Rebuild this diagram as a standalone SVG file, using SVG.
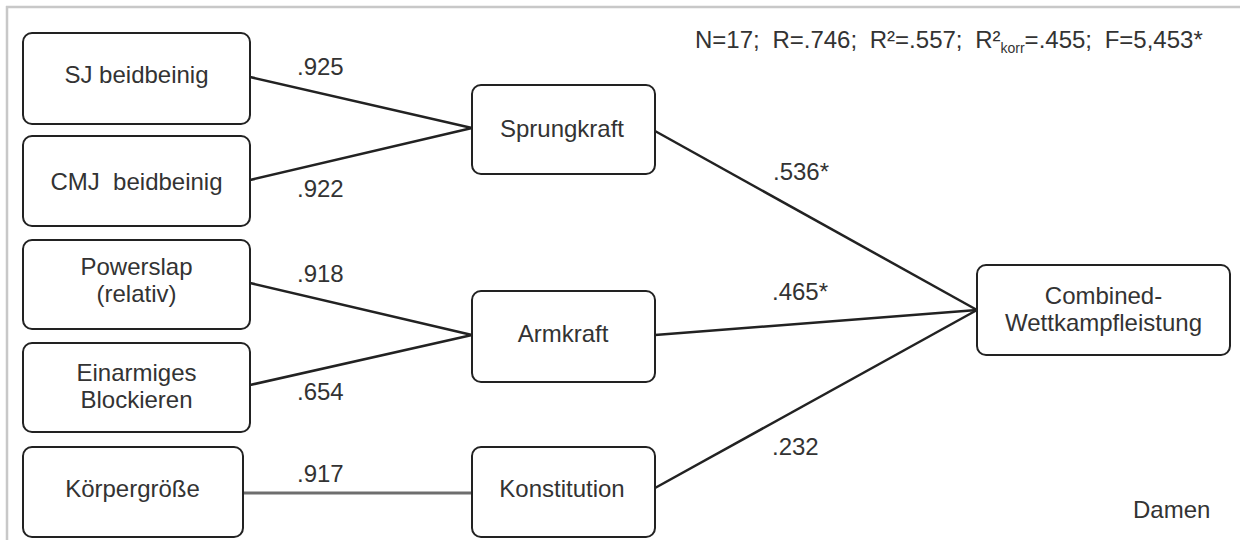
<svg xmlns="http://www.w3.org/2000/svg" width="1240" height="540" viewBox="0 0 1240 540">
<style>
  .box { fill: #ffffff; stroke: #222222; stroke-width: 2; }
  .t { font-family: "Liberation Sans", Arial, sans-serif; font-size: 24px; fill: #333333; }
  .c { text-anchor: middle; }
  .lbl { font-family: "Liberation Sans", Arial, sans-serif; font-size: 24px; fill: #333333; }
  .edge { stroke: #222222; stroke-width: 2.5; fill: none; }
  .edge-gray { stroke: #6e6e6e; stroke-width: 3; fill: none; }
</style>
<rect x="0" y="0" width="1240" height="540" fill="#ffffff"/>
<g id="frame">
  <line x1="6" y1="7" x2="1240" y2="7" stroke="#c8c8c8" stroke-width="2.5"/>
  <line x1="7" y1="6" x2="7" y2="540" stroke="#c8c8c8" stroke-width="2.5"/>
</g>
<g id="connectors">
  <line class="edge" x1="250" y1="77" x2="472" y2="128"/>
  <line class="edge" x1="250" y1="180" x2="472" y2="128"/>
  <line class="edge" x1="250" y1="283" x2="472" y2="335"/>
  <line class="edge" x1="250" y1="385" x2="472" y2="335"/>
  <line class="edge-gray" x1="243" y1="493" x2="472" y2="493"/>
  <line class="edge" x1="655" y1="131" x2="977" y2="310"/>
  <line class="edge" x1="655" y1="335" x2="977" y2="310"/>
  <line class="edge" x1="655" y1="488" x2="977" y2="310"/>
  <text class="lbl" x="297" y="75">.925</text>
  <text class="lbl" x="297" y="197">.922</text>
  <text class="lbl" x="297" y="282">.918</text>
  <text class="lbl" x="297" y="400">.654</text>
  <text class="lbl" x="297" y="482">.917</text>
  <text class="lbl" x="773" y="180">.536*</text>
  <text class="lbl" x="772" y="300">.465*</text>
  <text class="lbl" x="772" y="455">.232</text>
</g>
<g id="node-sj">
  <rect class="box" x="23" y="33" width="227" height="91" rx="9"/>
  <text class="t c" x="136.5" y="83">SJ beidbeinig</text>
</g>
<g id="node-cmj">
  <rect class="box" x="23" y="136" width="227" height="90" rx="9"/>
  <text class="t c" x="136.5" y="190" xml:space="preserve">CMJ  beidbeinig</text>
</g>
<g id="node-powerslap">
  <rect class="box" x="23" y="240" width="227" height="89" rx="9"/>
  <text class="t c" x="136.5" y="275">Powerslap</text>
  <text class="t c" x="136.5" y="302">(relativ)</text>
</g>
<g id="node-einarmiges">
  <rect class="box" x="23" y="343" width="227" height="89" rx="9"/>
  <text class="t c" x="136.5" y="381">Einarmiges</text>
  <text class="t c" x="136.5" y="408">Blockieren</text>
</g>
<g id="node-koerpergroesse">
  <rect class="box" x="23" y="447" width="220" height="90" rx="9"/>
  <text class="t c" x="132.5" y="497">Körpergröße</text>
</g>
<g id="node-sprungkraft">
  <rect class="box" x="472" y="85" width="183" height="89" rx="9"/>
  <text class="t c" x="562" y="137">Sprungkraft</text>
</g>
<g id="node-armkraft">
  <rect class="box" x="472" y="291" width="183" height="91" rx="9"/>
  <text class="t c" x="563" y="342">Armkraft</text>
</g>
<g id="node-konstitution">
  <rect class="box" x="472" y="447" width="183" height="90" rx="9"/>
  <text class="t c" x="562" y="497">Konstitution</text>
</g>
<g id="node-combined">
  <rect class="box" x="977" y="265" width="253" height="90" rx="9"/>
  <text class="t c" x="1103.5" y="304">Combined-</text>
  <text class="t c" x="1103.5" y="331">Wettkampfleistung</text>
</g>
<g id="stats">
  <text class="t" x="695" y="48" word-spacing="6">N=17; R=.746; R²=.557; R²<tspan font-size="14" dy="5">korr</tspan><tspan dy="-5">=.455; F=5,453*</tspan></text>
</g>
<g id="label-damen">
  <text class="t" x="1133" y="518">Damen</text>
</g>
</svg>
